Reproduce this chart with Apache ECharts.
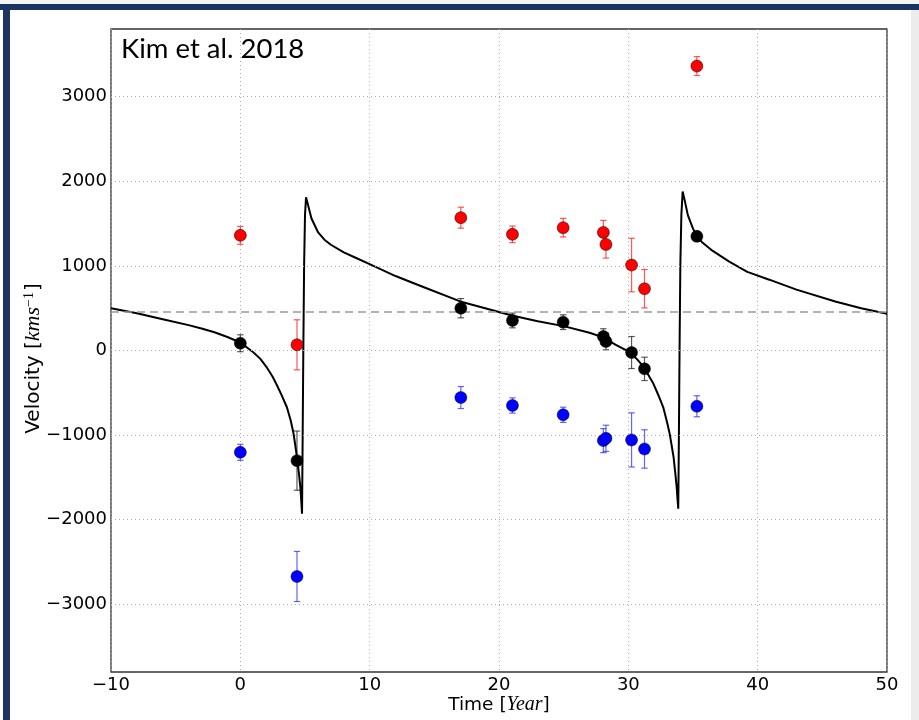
<!DOCTYPE html>
<html>
<head>
<meta charset="utf-8">
<script src="https://cdn.jsdelivr.net/npm/echarts@6/dist/echarts.min.js"></script>
<style>
  html, body { margin: 0; padding: 0; background: #ffffff; }
  #wrap { position: relative; width: 919px; height: 720px; overflow: hidden; }
  #chart { position: absolute; left: 0; top: 0; width: 919px; height: 720px; }
  .deco { position: absolute; pointer-events: none; }
</style>
</head>
<body>
<div id="wrap">
  <div id="chart"></div>
  <div class="deco" style="left:0;top:0;width:919px;height:4px;background:#f4f5f7;"></div>
  <div class="deco" style="left:0;top:4px;width:919px;height:6px;background:#1b3461;"></div>
  <div class="deco" style="left:3px;top:4px;width:7px;height:716px;background:#1b3461;"></div>
  <div class="deco" style="left:911px;top:10px;width:8px;height:710px;background:#ececec;"></div>
</div>
<script>
// ---- data ----
const epochs   = [0, 4.38, 17.05, 21.04, 24.96, 28.07, 28.27, 30.25, 31.25, 35.3];
const blackVel = [86, -1302, 500, 355, 335, 166, 106, -24, -217, 1349];
const blackErr = [100, 350, 114, 87, 87, 91, 98, 189, 138, 60];
const redVel   = [1361, 67, 1570, 1373, 1452, 1396, 1254, 1010, 730, 3362];
const redErr   = [106, 296, 124, 98, 110, 142, 162, 316, 227, 112];
const blueVel  = [-1203, -2671, -556, -650, -760, -1065, -1038, -1057, -1164, -659];
const blueErr  = [95, 296, 130, 90, 90, 142, 155, 320, 227, 124];

const curveTime = [-10,-8,-6,-4,-3,-2,-1,0,1,1.55,2,2.5,2.84,3.2,3.6,3.9,4.12,4.38,4.55,4.64,4.72,4.77,4.82,4.87,4.93,5.0,5.08,5.2,5.5,6.0,6.5,7,8,9,10,12,14,17,20,21,23,25,27,28,29,30,30.65,31.2,31.9,32.3,32.7,33.0,33.2,33.5,33.65,33.74,33.8,33.86,33.91,33.96,34.02,34.1,34.2,34.35,34.6,35.0,35.3,35.7,36.5,37.8,39.2,40.9,43,46,48,50];
const curveVel  = [500,440,370,300,260,215,160,95,-20,-99,-190,-310,-414,-530,-671,-830,-986,-1262,-1480,-1617,-1800,-1930,-1000,0,1000,1600,1810,1740,1560,1400,1310,1250,1160,1090,1020,880,760,580,455,414,345,288,210,158,70,-10,-99,-197,-380,-520,-671,-850,-986,-1262,-1480,-1617,-1750,-1870,-1000,0,1000,1600,1880,1780,1600,1440,1350,1280,1180,1050,930,837,720,580,500,435];

const systemicVelocity = 460;
const xTicks = [-10, 0, 10, 20, 30, 40, 50];
const yTicks = [-3000, -2000, -1000, 0, 1000, 2000, 3000];
const yRange = [-3800, 3800];
const titleText = 'Kim et al. 2018';

// ---- build ----
function pts(v) { return epochs.map((t, i) => [t, v[i]]); }
function errs(v, e) { return epochs.map((t, i) => [t, v[i] - e[i], v[i] + e[i]]); }
const curve = curveTime.map((t, i) => [t, curveVel[i]]);

function errRender(color) {
  return function (params, api) {
    const x = api.value(0), lo = api.value(1), hi = api.value(2);
    const a = api.coord([x, lo]), b = api.coord([x, hi]);
    const cap = 3.2;
    const st = { stroke: color, lineWidth: 1.2, opacity: 0.75 };
    return {
      type: 'group',
      children: [
        { type: 'line', shape: { x1: a[0], y1: a[1], x2: b[0], y2: b[1] }, style: st },
        { type: 'line', shape: { x1: a[0] - cap, y1: a[1], x2: a[0] + cap, y2: a[1] }, style: st },
        { type: 'line', shape: { x1: b[0] - cap, y1: b[1], x2: b[0] + cap, y2: b[1] }, style: st }
      ]
    };
  };
}
function errSeries(v, e, color) {
  return {
    type: 'custom', renderItem: errRender(color), data: errs(v, e),
    encode: { x: 0, y: [1, 2] }, z: 3, silent: true
  };
}
function ptSeries(v, color) {
  return {
    type: 'scatter', data: pts(v), symbol: 'circle', symbolSize: 12, z: 5,
    itemStyle: { color: color, borderColor: '#000', borderWidth: 0.5, opacity: 1 }
  };
}
const minus = s => String(s).replace('-', '\u2212');
const gridStyle = { color: '#aaa', width: 1, type: [1, 3] };

const chart = echarts.init(document.getElementById('chart'), null, { renderer: 'canvas' });
chart.setOption({
  animation: false,
  backgroundColor: 'transparent',
  title: {
    text: titleText, left: 116, top: 30,
    textStyle: { fontFamily: 'Lato', fontSize: 27.5, fontWeight: 'normal', color: '#000' }
  },
  grid: {
    left: 111, right: 32, top: 29, bottom: 48, outerBoundsMode: 'none', containLabel: false,
    show: true, borderColor: '#333', borderWidth: 1.3, backgroundColor: '#fff'
  },
  xAxis: {
    type: 'value', min: -10, max: 50, interval: 10,
    axisLine: { show: false }, axisTick: { show: false },
    splitLine: { show: true, lineStyle: gridStyle },
    axisLabel: { margin: 4, color: '#000', fontFamily: 'DejaVu Sans', fontSize: 18, formatter: v => minus(v) },
    name: '{n|Time [}{i|Year}{n|]}', nameLocation: 'middle', nameGap: 23, nameMoveOverlap: false,
    nameTextStyle: {
      rich: {
        n: { fontFamily: 'DejaVu Sans', fontSize: 18.5, color: '#000' },
        i: { fontFamily: 'Liberation Serif', fontStyle: 'italic', fontSize: 20, color: '#000' }
      }
    }
  },
  yAxis: {
    type: 'value', min: yRange[0], max: yRange[1],
    axisLine: { show: false },
    axisTick: { show: false, customValues: yTicks },
    splitLine: { show: false },
    axisLabel: {
      customValues: yTicks,
      margin: 4, color: '#000', fontFamily: 'DejaVu Sans', fontSize: 18,
      formatter: v => minus(v)
    },
    name: '{n|Velocity [}{i|kms}{s|\u22121}{n|]}', nameLocation: 'middle', nameGap: 66, nameMoveOverlap: false,
    nameTextStyle: {
      padding: [0, 16, 0, 0],
      rich: {
        n: { fontFamily: 'DejaVu Sans', fontSize: 20, color: '#000' },
        i: { fontFamily: 'Liberation Serif', fontStyle: 'italic', fontSize: 22, color: '#000' },
        s: { fontFamily: 'Liberation Serif', fontSize: 14, color: '#000', verticalAlign: 'top', padding: [0, 1, 9, 0] }
      }
    }
  },
  series: [
    {
      // horizontal grid lines at the y tick values
      type: 'line', data: [], silent: true, z: 1,
      markLine: {
        silent: true, symbol: 'none', label: { show: false }, animation: false,
        lineStyle: gridStyle,
        data: yTicks.map(v => ({ yAxis: v }))
      }
    },
    {
      type: 'line', data: curve, showSymbol: false, symbol: 'none', z: 4, silent: true,
      lineStyle: { color: '#000', width: 2 },
      markLine: {
        silent: true, symbol: 'none', label: { show: false },
        lineStyle: { color: '#999', width: 1.5, type: [8, 5] },
        data: [{ yAxis: systemicVelocity }]
      }
    },
    errSeries(redVel, redErr, '#ff2020'),
    errSeries(blueVel, blueErr, '#3030ff'),
    errSeries(blackVel, blackErr, '#222'),
    ptSeries(redVel, '#ff0000'),
    ptSeries(blueVel, '#0000ff'),
    ptSeries(blackVel, '#000000')
  ]
});
</script>
</body>
</html>
